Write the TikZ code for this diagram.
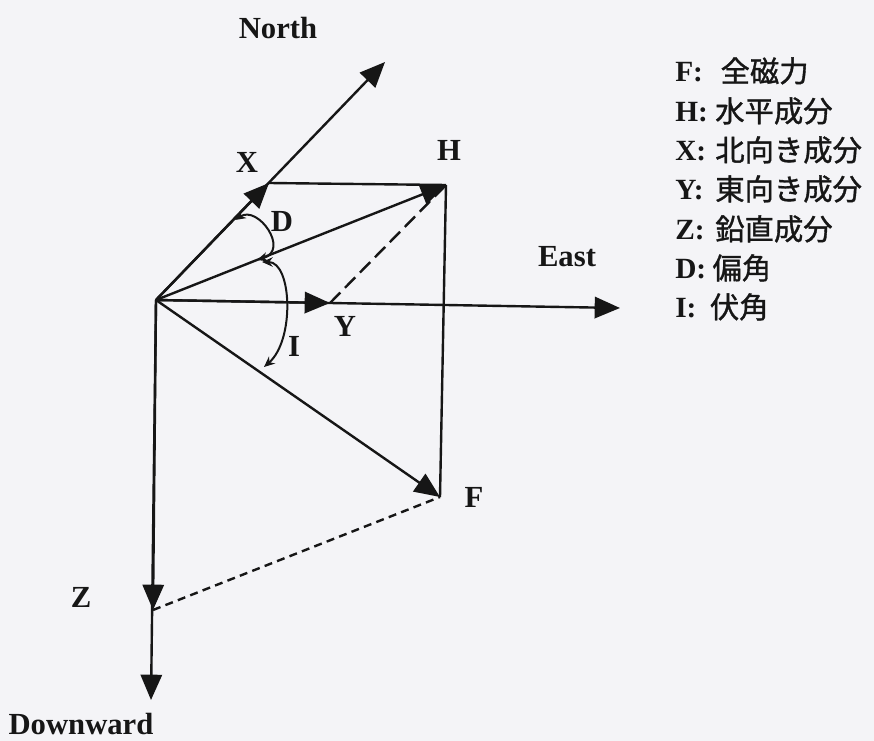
\documentclass[tikz,border=0pt]{standalone}
\usepackage{fontspec}
\setmainfont{Liberation Serif}
\newfontfamily\jpfont{Noto Sans CJK JP}[FakeBold=1.2]
\usetikzlibrary{arrows.meta}
\definecolor{paper}{RGB}{244,244,247}
\definecolor{ink}{RGB}{22,22,22}
\begin{document}
\begin{tikzpicture}[x=0.75pt,y=-0.75pt,
  vec/.style={draw=ink, line width=1.8pt, -{Triangle[length=19pt,width=16pt]}},
  plainline/.style={draw=ink, line width=1.8pt},
  dashline/.style={draw=ink, line width=1.8pt, dash pattern=on 11pt off 5pt},
  dotline/.style={draw=ink, line width=1.8pt, dash pattern=on 6pt off 4pt},
  anglemark/.style={draw=ink, line width=1.5pt, {Stealth[length=8pt,width=7pt]}-{Stealth[length=8pt,width=7pt]}},
  lbl/.style={text=ink, font=\fontsize{23}{27}\selectfont\bfseries, inner sep=0pt},
  legend/.style={text=ink, anchor=base west, inner sep=0pt, font=\fontsize{22}{26}\selectfont}
]
\fill[paper] (0,0) rectangle (874,741);
\useasboundingbox (0,0) rectangle (874,741);

% points
\coordinate (O) at (156,300);
\coordinate (N) at (385,62);
\coordinate (X) at (269,183);
\coordinate (H) at (446,185);
\coordinate (F) at (440,497);
\coordinate (E) at (620,308);
\coordinate (Y) at (330,303);
\coordinate (Z) at (153,610);
\coordinate (Dn) at (151,700);
\coordinate (da) at (235,220);
\coordinate (db) at (257,260);
\coordinate (ia) at (262,262);
\coordinate (ib) at (264,367);

% vectors
\draw[vec] (O) -- (N);
\draw[vec] (O) -- (X);
\draw[plainline] (X) -- (H);
\draw[vec] (O) -- (H);
\draw[plainline] (H) -- (F);
\draw[vec] (O) -- (F);
\draw[vec] (O) -- (E);
\draw[vec] (O) -- (Y);
\draw[vec] (O) -- (Dn);
\draw[vec] (O) -- (Z);
\draw[dashline] (Y) -- (H);
\draw[dotline] (Z) -- (F);

% angle marks
\draw[anglemark] (da) .. controls (258,205) and (290,250) .. (db);
\draw[anglemark] (ia) .. controls (292,262) and (295,340) .. (ib);

% labels
\node[lbl] (lnorth) at (278,28) {North};
\node[lbl] (lx) at (247,162) {X};
\node[lbl] (lh) at (449,150) {H};
\node[lbl] (ld) at (282,221) {D};
\node[lbl] (least) at (567,257) {East};
\node[lbl] (ly) at (345,326) {Y};
\node[lbl] (li) at (294,346) {I};
\node[lbl] (lf) at (474,497) {F};
\node[lbl] (lz) at (81,597) {Z};
\node[lbl] (ldown) at (81,724) {Downward};

% legend
\node[legend] (k1) at (675,82) {\makebox[34pt][l]{\bfseries F:}\jpfont 全磁力};
\node[legend] (k2) at (675,122) {\makebox[30pt][l]{\bfseries H:}\jpfont 水平成分};
\node[legend] (k3) at (675,161) {\makebox[30pt][l]{\bfseries X:}\jpfont 北向き成分};
\node[legend] (k4) at (675,200) {\makebox[30pt][l]{\bfseries Y:}\jpfont 東向き成分};
\node[legend] (k5) at (675,240) {\makebox[30pt][l]{\bfseries Z:}\jpfont 鉛直成分};
\node[legend] (k6) at (675,279) {\makebox[28pt][l]{\bfseries D:}\jpfont 偏角};
\node[legend] (k7) at (675,318) {\makebox[26pt][l]{\bfseries I:}\jpfont 伏角};
\end{tikzpicture}
\end{document}
